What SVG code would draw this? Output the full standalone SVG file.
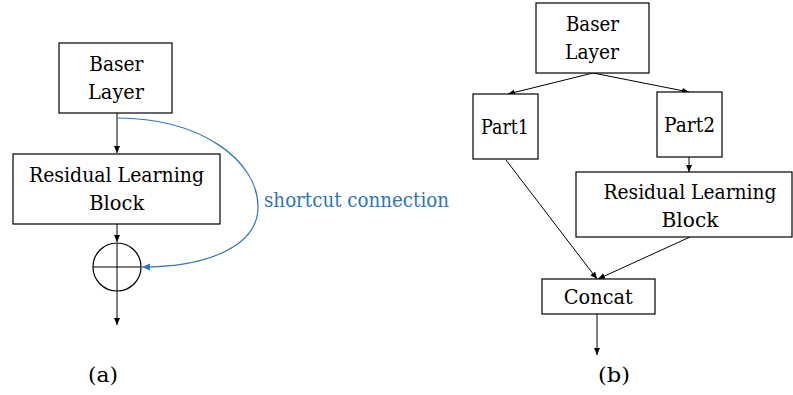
<svg xmlns="http://www.w3.org/2000/svg" width="793" height="395" viewBox="0 0 793 395">
<defs>
<style>
.box{fill:#fff;stroke:#000;stroke-width:1.2}
.t{font-family:"DejaVu Serif","Liberation Serif",serif;font-size:20px;fill:#000;text-anchor:middle}
.c{stroke:#000;stroke-width:1;fill:none}
.b{stroke:#2E75B6;stroke-width:1.2;fill:none}
</style>
<marker id="ah" markerWidth="8" markerHeight="8" refX="7" refY="4" orient="auto" markerUnits="userSpaceOnUse">
<path d="M0,1 L7,4 L0,7 Z" fill="#000"/>
</marker>
<marker id="ahb" markerWidth="10" markerHeight="10" refX="8" refY="4.5" orient="auto" markerUnits="userSpaceOnUse">
<path d="M0,1 L8,4.5 L0,8 Z" fill="#2E75B6"/>
</marker>
</defs>
<rect width="793" height="395" fill="#fff"/>
<g id="connectors">
<line class="c" x1="117" y1="113" x2="117" y2="153" marker-end="url(#ah)"/>
<line class="c" x1="117" y1="224" x2="117" y2="242" marker-end="url(#ah)"/>
<line class="c" x1="117" y1="291" x2="117" y2="325" marker-end="url(#ah)"/>
<path class="b" d="M117,118 C200,118 258,160 258,207 C258,245 210,267 142,267" marker-end="url(#ahb)"/>
<line class="c" x1="593" y1="73" x2="508" y2="94" marker-end="url(#ah)"/>
<line class="c" x1="593" y1="73" x2="689" y2="92" marker-end="url(#ah)"/>
<line class="c" x1="689" y1="157" x2="689" y2="172" marker-end="url(#ah)"/>
<line class="c" x1="506" y1="160" x2="597" y2="279" marker-end="url(#ah)"/>
<line class="c" x1="690" y1="237" x2="598" y2="279" marker-end="url(#ah)"/>
<line class="c" x1="597" y1="314" x2="597" y2="355" marker-end="url(#ah)"/>
</g>
<g id="a-baser">
<rect class="box" x="59" y="43" width="113" height="70"/>
<text class="t" x="116.3" y="71" textLength="54" lengthAdjust="spacingAndGlyphs">Baser</text>
<text class="t" x="116" y="99" textLength="56" lengthAdjust="spacingAndGlyphs">Layer</text>
</g>
<g id="a-residual">
<rect class="box" x="13" y="154" width="207" height="70"/>
<text class="t" x="116.5" y="182" textLength="175" lengthAdjust="spacingAndGlyphs">Residual Learning</text>
<text class="t" x="116.8" y="210" textLength="55" lengthAdjust="spacingAndGlyphs">Block</text>
</g>
<g id="a-sum">
<circle cx="117" cy="267" r="24" fill="none" stroke="#000" stroke-width="1.2"/>
<line class="c" x1="93" y1="267" x2="141" y2="267"/>
<line class="c" x1="117" y1="243" x2="117" y2="291"/>
</g>
<text class="t" x="264" y="207" style="text-anchor:start;fill:#2E75B6" textLength="185" lengthAdjust="spacingAndGlyphs">shortcut connection</text>
<g id="b-baser">
<rect class="box" x="536" y="3" width="113" height="70"/>
<text class="t" x="592.5" y="31" textLength="53" lengthAdjust="spacingAndGlyphs">Baser</text>
<text class="t" x="592" y="59" textLength="54" lengthAdjust="spacingAndGlyphs">Layer</text>
</g>
<g id="b-part1">
<rect class="box" x="473" y="94" width="65" height="65"/>
<text class="t" x="505" y="134" textLength="48" lengthAdjust="spacingAndGlyphs">Part1</text>
</g>
<g id="b-part2">
<rect class="box" x="657" y="92" width="65" height="65"/>
<text class="t" x="689.5" y="132" textLength="51" lengthAdjust="spacingAndGlyphs">Part2</text>
</g>
<g id="b-residual">
<rect class="box" x="576" y="172" width="216" height="65"/>
<text class="t" x="690" y="199" textLength="173" lengthAdjust="spacingAndGlyphs">Residual Learning</text>
<text class="t" x="690" y="227" textLength="57" lengthAdjust="spacingAndGlyphs">Block</text>
</g>
<g id="b-concat">
<rect class="box" x="542" y="279" width="113" height="35"/>
<text class="t" x="598.3" y="304" textLength="69" lengthAdjust="spacingAndGlyphs">Concat</text>
</g>
<text class="t" x="103" y="382" style="font-size:21px" textLength="30" lengthAdjust="spacingAndGlyphs">(a)</text>
<text class="t" x="614" y="382" style="font-size:21px" textLength="32" lengthAdjust="spacingAndGlyphs">(b)</text>
</svg>
